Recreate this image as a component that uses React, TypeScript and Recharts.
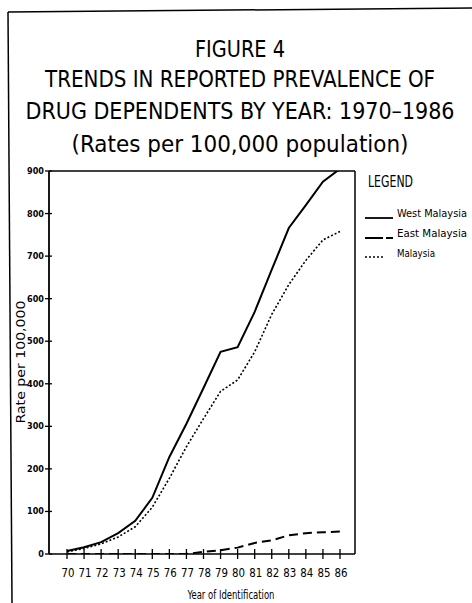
import { Label, Legend, Line, LineChart, ReferenceLine, XAxis, YAxis } from 'recharts';

const years = [70, 71, 72, 73, 74, 75, 76, 77, 78, 79, 80, 81, 82, 83, 84, 85, 86];
const westMalaysia = [7, 16, 28, 49, 78, 132, 228, 306, 390, 475, 486, 569, 668, 766, 820, 875, 905];
const eastMalaysia = [0, 0, 0, 0, 0, 0, 0, 0, 5, 9, 15, 26, 32, 44, 49, 51, 53];
const malaysia = [5, 13, 24, 40, 64, 110, 178, 252, 318, 382, 409, 475, 563, 633, 690, 738, 758];
const yTicks = [0, 100, 200, 300, 400, 500, 600, 700, 800, 900];

const titleLines = [
  'FIGURE 4',
  'TRENDS IN REPORTED PREVALENCE OF',
  'DRUG DEPENDENTS BY YEAR: 1970\u20131986',
  '(Rates per 100,000 population)',
];

const data = years.map((year, i) => ({
  year,
  west: westMalaysia[i],
  east: eastMalaysia[i],
  malaysia: malaysia[i],
}));

const FONT = "'DejaVu Sans Condensed', 'Liberation Sans Narrow', 'DejaVu Sans', sans-serif";
const X_DOMAIN: [number, number] = [68.945, 86.88];

// title placement (baseline y, width)
const titleLayout = [
  { y: 57, w: 90 },
  { y: 87, w: 390 },
  { y: 119, w: 429 },
  { y: 152, w: 337 },
];

const YTick = (props: any) => {
  const { x, y, payload } = props;
  return (
    <g>
      <line x1={x - 4} x2={x + 3} y1={y} y2={y} stroke="#000" strokeWidth={1.3} />
      <text x={x - 5} y={y + 3} textAnchor="end" fontSize={9} fontWeight="bold" fontFamily={FONT} fill="#000">
        {payload.value}
      </text>
    </g>
  );
};

const XTick = (props: any) => {
  const { x, y, payload } = props;
  return (
    <g>
      <line x1={x} x2={x} y1={y - 5} y2={y + 5} stroke="#000" strokeWidth={1.3} />
      <text
        x={x + 1}
        y={y + 23}
        textAnchor="middle"
        fontSize={12}
        fontFamily={FONT}
        fill="#000"
        textLength={13}
        lengthAdjust="spacingAndGlyphs"
      >
        {payload.value}
      </text>
    </g>
  );
};

const LegendBox = () => (
  <svg width={112} height={100} style={{ overflow: 'visible', display: 'block' }}>
    <text x={8} y={19} fontSize={15} fontFamily={FONT} textLength={45} lengthAdjust="spacingAndGlyphs">
      LEGEND
    </text>
    <line x1={5} x2={33} y1={50} y2={50} stroke="#000" strokeWidth={1.8} />
    <text x={37} y={49} fontSize={11} fontFamily={FONT} textLength={70} lengthAdjust="spacingAndGlyphs">
      West Malaysia
    </text>
    <line x1={5} x2={33} y1={70} y2={70} stroke="#000" strokeWidth={1.8} strokeDasharray="18 3 7 20" />
    <text x={37} y={69} fontSize={11} fontFamily={FONT} textLength={70} lengthAdjust="spacingAndGlyphs">
      East Malaysia
    </text>
    <line x1={5} x2={25} y1={89} y2={89} stroke="#000" strokeWidth={1.5} strokeDasharray="2 2" />
    <text x={37} y={89} fontSize={11} fontFamily={FONT} textLength={38} lengthAdjust="spacingAndGlyphs">
      Malaysia
    </text>
  </svg>
);

export default function App() {
  return (
    <div style={{ position: 'fixed', left: 0, top: 0, width: 472, height: 603, background: '#fff' }}>
      <svg width={472} height={603} style={{ position: 'absolute', left: 0, top: 0 }}>
        <line x1={8} y1={12} x2={472} y2={8} stroke="#000" strokeWidth={1.5} />
        <line x1={8} y1={12} x2={12} y2={603} stroke="#000" strokeWidth={1.5} />
        {titleLines.map((t, i) => (
          <text
            key={t}
            x={240}
            y={titleLayout[i].y}
            textAnchor="middle"
            fontSize={23}
            fontFamily={FONT}
            fill="#000"
            textLength={titleLayout[i].w}
            lengthAdjust="spacingAndGlyphs"
          >
            {t}
          </text>
        ))}
      </svg>
      <div style={{ position: 'absolute', left: 0, top: 0 }}>
        <LineChart width={472} height={603} data={data} margin={{ top: 171, right: 117, bottom: 9, left: 9 }}>
          <XAxis
            dataKey="year"
            type="number"
            domain={X_DOMAIN}
            ticks={years}
            interval={0}
            allowDataOverflow
            height={40}
            tickSize={0}
            tickMargin={0}
            tickLine={false}
            axisLine={{ stroke: '#000', strokeWidth: 1.5 }}
            tick={<XTick />}
          >
            <Label
              content={() => (
                <text x={231} y={599} textAnchor="middle" fontSize={13} fontFamily={FONT} fill="#000" textLength={87} lengthAdjust="spacingAndGlyphs">
                  Year of Identification
                </text>
              )}
            />
          </XAxis>
          <YAxis
            type="number"
            domain={[0, 900]}
            ticks={yTicks}
            interval={0}
            allowDataOverflow
            width={40}
            tickSize={0}
            tickMargin={0}
            tickLine={false}
            axisLine={{ stroke: '#000', strokeWidth: 1.8 }}
            tick={<YTick />}
          >
            <Label
              content={() => (
                <text
                  x={0}
                  y={0}
                  transform="translate(25 362) rotate(-90)"
                  textAnchor="middle"
                  fontSize={12}
                  fontFamily="'DejaVu Sans', sans-serif"
                  fill="#000"
                  textLength={123}
                  lengthAdjust="spacingAndGlyphs"
                >
                  Rate per 100,000
                </text>
              )}
            />
          </YAxis>
          <ReferenceLine y={900} stroke="#000" strokeWidth={1.5} />
          <ReferenceLine x={X_DOMAIN[1]} stroke="#000" strokeWidth={1.5} />
          <Legend
            layout="horizontal"
            verticalAlign="middle"
            align="center"
            wrapperStyle={{ position: 'absolute', left: 360, top: 168, width: 112, height: 100 }}
            content={() => <LegendBox />}
          />
          <Line dataKey="west" name="West Malaysia" type="linear" stroke="#000" strokeWidth={2} dot={false} isAnimationActive={false} />
          <Line dataKey="east" name="East Malaysia" type="linear" stroke="#000" strokeWidth={2} strokeDasharray="9 5" dot={false} isAnimationActive={false} />
          <Line dataKey="malaysia" name="Malaysia" type="linear" stroke="#000" strokeWidth={1.6} strokeDasharray="2 2" dot={false} isAnimationActive={false} />
        </LineChart>
      </div>
    </div>
  );
}
